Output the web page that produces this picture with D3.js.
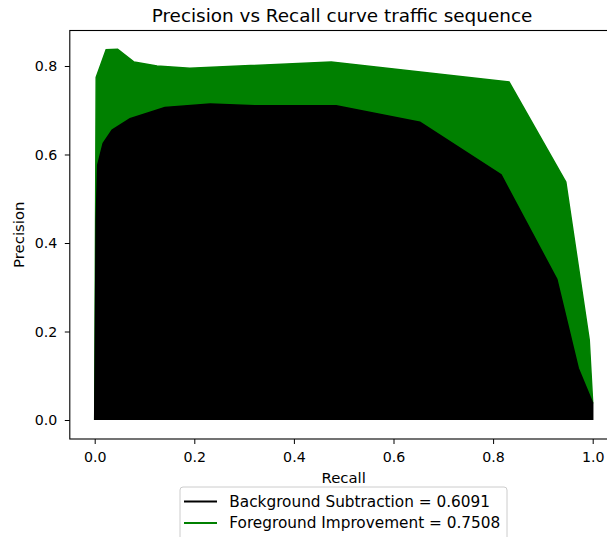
<!DOCTYPE html>
<html><head><meta charset="utf-8">
<script src="https://cdn.jsdelivr.net/npm/d3@7"></script>
<style>
body{margin:0;background:#fff;}
text{font-family:"DejaVu Sans",sans-serif;fill:#000;}
</style>
</head><body>
<svg id="chart" width="607" height="537"></svg>
<script>
const chartTitle = "Precision vs Recall curve traffic sequence";
const xLabel = "Recall";
const yLabel = "Precision";
const xTicks = [0, 0.2, 0.4, 0.6, 0.8, 1.0];
const yTicks = [0, 0.2, 0.4, 0.6, 0.8];

// Background Subtraction (black)
const bgRecall    = [0.0, 0.003, 0.006, 0.017, 0.035, 0.071, 0.141, 0.232, 0.322, 0.485, 0.653, 0.816, 0.928, 0.971, 1.0, 1.0];
const bgPrecision = [0.0, 0.45, 0.576, 0.625, 0.655, 0.681, 0.706, 0.714, 0.710, 0.710, 0.673, 0.554, 0.318, 0.117, 0.038, 0.0];

// Foreground Improvement (green)
const fgRecall    = [0.0, 0.003, 0.023, 0.046, 0.079, 0.125, 0.191, 0.475, 0.832, 0.946, 0.993, 1.0];
const fgPrecision = [0.0, 0.774, 0.837, 0.838, 0.809, 0.800, 0.795, 0.809, 0.764, 0.538, 0.181, 0.038];

const seriesNames  = ["Background Subtraction = 0.6091", "Foreground Improvement = 0.7508"];
const seriesColors = ["#000000", "#008000"];

const svg = d3.select("#chart");
const L = 69.8, R = 617.6, T = 30.5, B = 439;
const x = d3.scaleLinear().domain([-0.05, 1.05]).range([L, R]);
const y = d3.scaleLinear().domain([-0.0429, 0.8802]).range([B, T]);

const bg = bgRecall.map((r, i) => [r, bgPrecision[i]]);
const fg = fgRecall.map((r, i) => [r, fgPrecision[i]]);

const area = d3.area().x(d => x(d[0])).y0(y(0)).y1(d => y(d[1]));
const line = d3.line().x(d => x(d[0])).y(d => y(d[1]));

// green first
svg.append("path").attr("d", line(fg)).attr("fill", "none").attr("stroke", seriesColors[1]).attr("stroke-width", 1.5);
svg.append("path").attr("d", area(fg)).attr("fill", seriesColors[1]);
svg.append("path").attr("d", line(bg)).attr("fill", "none").attr("stroke", seriesColors[0]).attr("stroke-width", 1.5);
svg.append("path").attr("d", area(bg)).attr("fill", seriesColors[0]);

// axes
const fmt = d3.format(".1f");
const xAxis = svg.append("g").attr("transform", `translate(0,${B})`)
  .call(d3.axisBottom(x).tickValues(xTicks).tickFormat(fmt).tickSize(5).tickPadding(7.7));
const yAxis = svg.append("g").attr("transform", `translate(${L},0)`)
  .call(d3.axisLeft(y).tickValues(yTicks).tickFormat(fmt).tickSize(5).tickPadding(7.5));
[xAxis, yAxis].forEach(g => {
  g.select(".domain").remove();
  g.selectAll(".tick line").attr("stroke", "#000").attr("stroke-width", 1);
  g.selectAll(".tick text").attr("font-size", "14.2px").attr("font-family", "DejaVu Sans").attr("fill", "#222");
});

// spines
const sp = svg.append("g").attr("stroke", "#000").attr("stroke-width", 1.1).attr("fill", "none");
sp.append("rect").attr("x", L).attr("y", T).attr("width", R - L).attr("height", B - T);

// title & labels
svg.append("text").attr("x", 342).attr("y", 22).attr("text-anchor", "middle")
  .attr("font-size", "18.4px").attr("fill", "#111").text(chartTitle);
svg.append("text").attr("x", (L + R) / 2).attr("y", 483).attr("text-anchor", "middle")
  .attr("font-size", "14.9px").attr("fill", "#222").text(xLabel);
svg.append("text").attr("transform", `translate(24,${(T + B) / 2}) rotate(-90)`).attr("text-anchor", "middle")
  .attr("font-size", "14.9px").attr("fill", "#222").text(yLabel);

// legend
const lg = svg.append("g");
lg.append("rect").attr("x", 180).attr("y", 487).attr("width", 327).attr("height", 58).attr("rx", 3)
  .attr("fill", "#fff").attr("fill-opacity", 0.8).attr("stroke", "#ccc").attr("stroke-width", 1);
seriesNames.forEach((name, i) => {
  const cy = 501.5 + i * 21.5;
  lg.append("line").attr("x1", 184).attr("x2", 217).attr("y1", cy).attr("y2", cy)
    .attr("stroke", seriesColors[i]).attr("stroke-width", 2);
  lg.append("text").attr("x", 229.3).attr("y", cy + 5.3).attr("font-size", "15.3px").attr("fill", "#222").text(name);
});
</script>
</body></html>
